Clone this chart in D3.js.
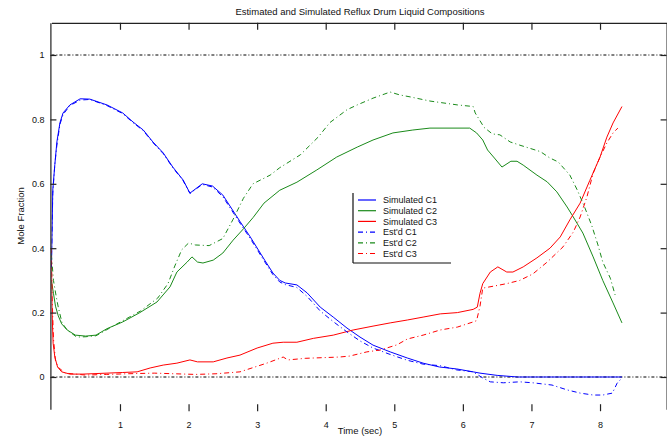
<!DOCTYPE html>
<html>
<head>
<meta charset="utf-8">
<script src="https://cdn.jsdelivr.net/npm/d3@7"></script>
<style>
  html, body { margin: 0; padding: 0; background: #fff; }
  svg { display: block; font-family: "Liberation Sans", Arial, sans-serif; }
</style>
</head>
<body>
<svg id="chart" width="667" height="440"></svg>
<script>
// Reflux drum liquid compositions: [time (sec), mole fraction]
const simC1 = [[0,0.34],[0.02,0.58],[0.05,0.66],[0.08,0.73],[0.125,0.79],[0.17,0.82],[0.27,0.845],[0.42,0.864],[0.56,0.863],[0.81,0.845],[1.04,0.82],[1.19,0.792],[1.34,0.767],[1.48,0.73],[1.63,0.696],[1.77,0.652],[1.92,0.612],[2.02,0.571],[2.2,0.60],[2.35,0.593],[2.5,0.565],[2.75,0.483],[2.9,0.435],[3.11,0.363],[3.23,0.323],[3.33,0.30],[3.41,0.292],[3.58,0.286],[3.73,0.261],[3.92,0.217],[4.11,0.186],[4.31,0.152],[4.5,0.124],[4.69,0.099],[4.94,0.078],[5.19,0.059],[5.42,0.043],[5.66,0.031],[5.91,0.025],[6.15,0.016],[6.25,0.012],[6.5,0.005],[6.8,0.0],[7.5,0.0],[8.32,0.0]];
const simC2 = [[0,0.30],[0.03,0.26],[0.06,0.22],[0.1,0.19],[0.15,0.165],[0.23,0.146],[0.35,0.13],[0.5,0.127],[0.65,0.13],[0.81,0.15],[1.04,0.171],[1.29,0.2],[1.54,0.233],[1.73,0.28],[1.83,0.326],[1.98,0.357],[2.05,0.373],[2.13,0.357],[2.21,0.354],[2.36,0.363],[2.5,0.385],[2.65,0.425],[2.8,0.46],[2.94,0.495],[3.1,0.54],[3.33,0.58],[3.58,0.605],[3.87,0.643],[4.16,0.683],[4.46,0.714],[4.69,0.736],[4.98,0.758],[5.27,0.767],[5.52,0.773],[6.1,0.773],[6.2,0.758],[6.29,0.736],[6.36,0.705],[6.46,0.68],[6.57,0.652],[6.7,0.67],[6.79,0.67],[6.88,0.658],[7.08,0.627],[7.23,0.606],[7.37,0.575],[7.52,0.528],[7.61,0.497],[7.75,0.447],[7.9,0.373],[8.04,0.30],[8.19,0.23],[8.32,0.168]];
const simC3 = [[0,0.36],[0.01,0.2],[0.025,0.105],[0.05,0.062],[0.09,0.031],[0.15,0.016],[0.27,0.009],[0.46,0.009],[0.81,0.012],[1.04,0.014],[1.25,0.016],[1.44,0.028],[1.63,0.037],[1.83,0.043],[2.02,0.053],[2.13,0.047],[2.36,0.047],[2.56,0.059],[2.75,0.068],[3.0,0.09],[3.23,0.105],[3.38,0.108],[3.58,0.108],[3.82,0.12],[4.11,0.13],[4.4,0.146],[4.69,0.158],[4.94,0.168],[5.19,0.177],[5.42,0.186],[5.67,0.196],[5.92,0.2],[6.15,0.21],[6.21,0.217],[6.25,0.26],[6.29,0.29],[6.4,0.326],[6.51,0.342],[6.64,0.326],[6.73,0.326],[6.88,0.342],[7.08,0.37],[7.27,0.4],[7.42,0.435],[7.56,0.488],[7.71,0.54],[7.85,0.61],[8.0,0.683],[8.1,0.745],[8.19,0.789],[8.32,0.84]];
const estC1 = [[0,0.34],[0.02,0.57],[0.05,0.66],[0.08,0.72],[0.125,0.785],[0.17,0.815],[0.27,0.843],[0.42,0.86],[0.56,0.862],[0.81,0.843],[1.04,0.818],[1.19,0.79],[1.34,0.765],[1.48,0.728],[1.63,0.694],[1.77,0.65],[1.92,0.61],[2.02,0.57],[2.2,0.598],[2.35,0.59],[2.5,0.56],[2.75,0.478],[2.9,0.43],[3.11,0.358],[3.23,0.318],[3.33,0.295],[3.41,0.287],[3.58,0.278],[3.73,0.25],[3.92,0.205],[4.11,0.172],[4.31,0.14],[4.5,0.112],[4.69,0.09],[4.94,0.07],[5.19,0.052],[5.42,0.04],[5.67,0.035],[5.91,0.022],[6.15,0.016],[6.29,-0.003],[6.4,-0.015],[6.59,-0.018],[6.83,-0.015],[7.02,-0.018],[7.3,-0.025],[7.52,-0.04],[7.71,-0.05],[7.9,-0.056],[8.04,-0.056],[8.18,-0.05],[8.25,-0.019],[8.32,-0.003]];
const estC2 = [[0,0.38],[0.03,0.3],[0.07,0.25],[0.1,0.217],[0.155,0.168],[0.23,0.146],[0.37,0.124],[0.5,0.125],[0.65,0.128],[1.0,0.17],[1.3,0.205],[1.55,0.245],[1.7,0.29],[1.8,0.345],[1.9,0.395],[2.0,0.416],[2.1,0.41],[2.3,0.408],[2.5,0.43],[2.65,0.49],[2.8,0.555],[2.94,0.6],[3.19,0.627],[3.33,0.65],[3.63,0.69],[3.89,0.745],[4.06,0.79],[4.31,0.83],[4.46,0.845],[4.69,0.866],[4.94,0.885],[5.08,0.876],[5.23,0.87],[5.52,0.857],[5.92,0.845],[6.15,0.84],[6.18,0.82],[6.31,0.775],[6.43,0.755],[6.54,0.752],[6.69,0.73],[6.83,0.72],[6.98,0.71],[7.13,0.70],[7.27,0.68],[7.39,0.668],[7.56,0.627],[7.67,0.58],[7.78,0.525],[7.88,0.47],[7.97,0.41],[8.04,0.357],[8.15,0.307],[8.22,0.255]];
const estC3 = [[0,0.4],[0.01,0.25],[0.03,0.12],[0.06,0.05],[0.1,0.03],[0.2,0.012],[0.5,0.006],[0.8,0.008],[1.1,0.01],[1.5,0.012],[1.8,0.01],[2.1,0.008],[2.4,0.01],[2.75,0.016],[3.14,0.043],[3.38,0.062],[3.45,0.053],[3.7,0.058],[4.2,0.062],[4.35,0.065],[4.6,0.078],[4.8,0.084],[5.04,0.1],[5.19,0.118],[5.42,0.13],[5.67,0.146],[5.92,0.155],[6.15,0.171],[6.2,0.175],[6.25,0.22],[6.29,0.276],[6.47,0.283],[6.64,0.29],[6.83,0.30],[7.02,0.32],[7.23,0.357],[7.46,0.404],[7.61,0.45],[7.71,0.497],[7.81,0.56],[7.9,0.633],[8.0,0.683],[8.1,0.727],[8.19,0.758],[8.26,0.773]];

const xTicks = [1, 2, 3, 4, 5, 6, 7, 8];
const yTicks = [0, 0.2, 0.4, 0.6, 0.8, 1];
const yTickLabels = ["0", "0.2", "0.4", "0.6", "0.8", "1"];
const seriesNames = ["Simulated C1", "Simulated C2", "Simulated C3", "Est'd C1", "Est'd C2", "Est'd C3"];
const seriesData = [simC1, simC2, simC3, estC1, estC2, estC3];
const seriesColors = ["#0000ff", "#1a8a1a", "#ff0000", "#0000ff", "#1a8a1a", "#ff0000"];
const titleText = "Estimated and Simulated Reflux Drum Liquid Compositions";
const xLabel = "Time (sec)";
const yLabel = "Mole Fraction";

const svg = d3.select("#chart");
const plotLeft = 51.4, plotRight = 668.6, plotTop = 22.8, plotBottom = 409.2;

const x = d3.scaleLinear().domain([0, 9]).range([plotLeft, plotRight]);
const y = d3.scaleLinear().domain([-0.1, 1.1]).range([plotBottom, plotTop]);

svg.append("defs").append("clipPath").attr("id", "plotClip")
  .append("rect").attr("x", plotLeft).attr("y", plotTop)
  .attr("width", plotRight - plotLeft).attr("height", plotBottom - plotTop);

// reference lines at 0 and 1
const refG = svg.append("g");
[0, 1].forEach(v => {
  refG.append("line")
    .attr("x1", x(0)).attr("x2", x(9))
    .attr("y1", y(v)).attr("y2", y(v))
    .attr("stroke", "#000").attr("stroke-width", 1)
    .attr("stroke-dasharray", "3,2,1,2");
});

// data lines
const line = d3.line().x(d => x(d[0])).y(d => y(d[1]));
const linesG = svg.append("g").attr("clip-path", "url(#plotClip)");
seriesData.forEach((data, i) => {
  linesG.append("path")
    .datum(data)
    .attr("d", line)
    .attr("fill", "none")
    .attr("stroke", seriesColors[i])
    .attr("stroke-width", 1)
    .attr("stroke-dasharray", i >= 3 ? "5,3,1,3" : null);
});

// axes
const axisStyle = g => {
  g.selectAll("path.domain").attr("stroke", "#222").attr("stroke-width", 1.2);
  g.selectAll(".tick line").attr("stroke", "#222").attr("stroke-width", 1.2);
  g.selectAll(".tick text").attr("fill", "#111").style("font-size", "9px")
    .style("font-family", "'Liberation Sans', Arial, sans-serif");
};

svg.append("g").attr("transform", `translate(${plotLeft - 1},0)`)
  .call(d3.axisLeft(y).tickValues(yTicks).tickFormat((d, i) => yTickLabels[i])
    .tickSizeInner(-6).tickSizeOuter(0).tickPadding(6))
  .call(axisStyle);

const bottomAxis = svg.append("g").attr("transform", `translate(0,${plotBottom + 2})`)
  .call(d3.axisBottom(x).tickValues(xTicks).tickFormat(d3.format("d"))
    .tickSizeInner(-7).tickSizeOuter(0).tickPadding(10))
  .call(axisStyle);
bottomAxis.select("path.domain").remove();

svg.append("g").attr("transform", `translate(0,${plotTop})`)
  .call(d3.axisTop(x).tickValues(xTicks).tickFormat("")
    .tickSizeInner(-7).tickSizeOuter(0))
  .call(axisStyle);

svg.append("g").attr("transform", `translate(${plotRight - 2},0)`)
  .call(d3.axisRight(y).tickValues(yTicks).tickFormat("")
    .tickSizeInner(-6).tickSizeOuter(0))
  .call(axisStyle);

// title and axis labels
svg.append("text")
  .attr("x", (plotLeft + plotRight) / 2).attr("y", 15)
  .attr("text-anchor", "middle").style("font-size", "9.5px").attr("fill", "#111")
  .text(titleText);

svg.append("text")
  .attr("x", (plotLeft + plotRight) / 2).attr("y", 434)
  .attr("text-anchor", "middle").style("font-size", "9.5px").attr("fill", "#111")
  .text(xLabel);

svg.append("text")
  .attr("transform", `translate(24,${(plotTop + plotBottom) / 2}) rotate(-90)`)
  .attr("text-anchor", "middle").style("font-size", "9.5px").attr("fill", "#111")
  .text(yLabel);

// legend
const lg = svg.append("g").attr("transform", "translate(353,193)");
lg.append("line").attr("x1", 0).attr("x2", 0).attr("y1", 0).attr("y2", 70)
  .attr("stroke", "#111").attr("stroke-width", 1.2);
lg.append("line").attr("x1", 0).attr("x2", 98).attr("y1", 70).attr("y2", 70)
  .attr("stroke", "#111").attr("stroke-width", 1.2);
seriesNames.forEach((name, i) => {
  const yy = 7 + i * 10.7;
  lg.append("line")
    .attr("x1", 5).attr("x2", 23).attr("y1", yy).attr("y2", yy)
    .attr("stroke", seriesColors[i]).attr("stroke-width", 1.2)
    .attr("stroke-dasharray", i >= 3 ? "5,3,1,3" : null);
  lg.append("text")
    .attr("x", 30).attr("y", yy + 3.2)
    .style("font-size", "9px").attr("fill", "#111")
    .text(name);
});
</script>
</body>
</html>
